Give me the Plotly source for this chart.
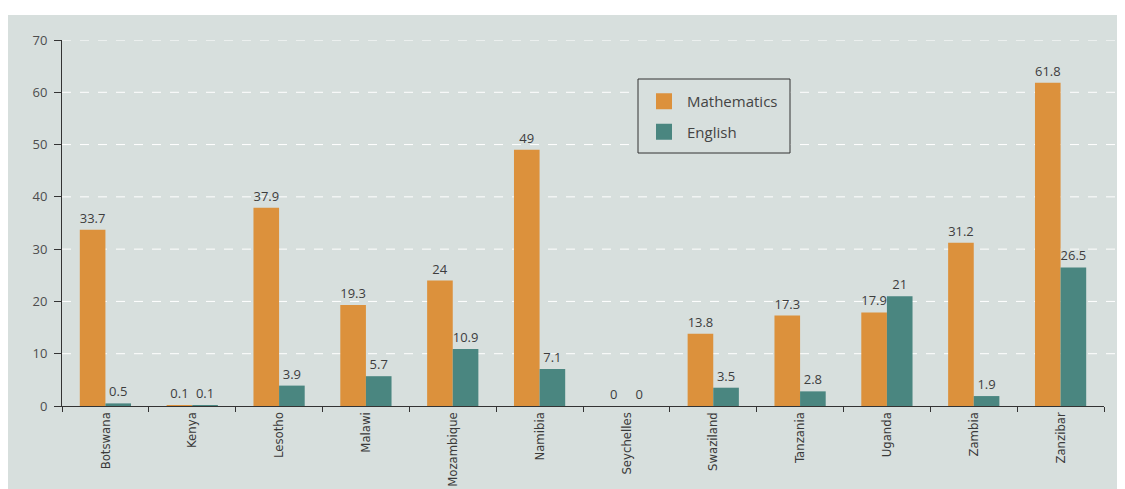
import plotly.graph_objects as go

countries = ["Botswana", "Kenya", "Lesotho", "Malawi", "Mozambique", "Namibia",
             "Seychelles", "Swaziland", "Tanzania", "Uganda", "Zambia", "Zanzibar"]
mathematics = [33.7, 0.1, 37.9, 19.3, 24, 49, 0, 13.8, 17.3, 17.9, 31.2, 61.8]
english = [0.5, 0.1, 3.9, 5.7, 10.9, 7.1, 0, 3.5, 2.8, 21, 1.9, 26.5]
series_names = ["Mathematics", "English"]
y_ticks = [0, 10, 20, 30, 40, 50, 60, 70]

ORANGE = "#dc913c"
TEAL = "#4a8680"
PANEL = "#d7dfdd"
TEXT = "#3d3d3d"

# page offset (body margin) of 8 px
OFF = 8
W, H = 1125, 489
L, T = 62 - OFF, 40 - OFF
R = W - (1104 - OFF)
B = H - (406 - OFF)
pw, ph = W - L - R, H - T - B


def px(xp):  # page x -> paper x
    return (xp - OFF - L) / pw


def py(yp):  # page y -> paper y
    return (H - B - (yp - OFF)) / ph


fig = go.Figure()
for name, vals, col in [(series_names[0], mathematics, ORANGE), (series_names[1], english, TEAL)]:
    fig.add_trace(go.Bar(x=countries, y=vals, name=name, showlegend=False,
                         marker=dict(color=col, line=dict(width=0)),
                         text=[f"{v:g}" for v in vals], textposition="outside",
                         cliponaxis=False,
                         textfont=dict(family="Open Sans", size=13, color=TEXT)))
for name, col in [(series_names[0], ORANGE), (series_names[1], TEAL)]:
    fig.add_trace(go.Scatter(x=[None], y=[None], mode="markers", name=name,
                             legendgroup=name,
                             marker=dict(symbol="square", size=22, color=col,
                                         line=dict(width=0))))

# white strip at top of page, rest of page is panel colour
fig.add_shape(type="rect", xref="paper", yref="paper", layer="below",
              x0=px(0) - 0.05, x1=px(1125) + 0.05, y0=py(15), y1=py(0) + 0.05,
              fillcolor="white", line=dict(width=0))
# dashed gridlines extending slightly beyond the axis end
for v in y_ticks[1:]:
    fig.add_shape(type="line", xref="paper", yref="y", x0=0, x1=px(1117), y0=v, y1=v,
                  line=dict(color="white", width=1, dash="dash"), layer="below")
# legend box
fig.add_shape(type="rect", xref="paper", yref="paper", layer="above",
              x0=px(638), x1=px(790), y0=py(153), y1=py(79),
              fillcolor=PANEL, line=dict(color="#333333", width=1))

fig.update_layout(
    width=W, height=H,
    margin=dict(l=L, r=R, t=T, b=B, autoexpand=False),
    paper_bgcolor=PANEL, plot_bgcolor="rgba(0,0,0,0)",
    barmode="group", bargap=0.41, bargroupgap=0,
    font=dict(family="Open Sans", color="#444444"),
    legend=dict(x=px(641), y=py(85), xanchor="left", yanchor="top",
                bgcolor="rgba(0,0,0,0)", borderwidth=0,
                font=dict(family="Open Sans", size=15, color="#444444"),
                itemsizing="trace", tracegroupgap=8, itemwidth=36,
                entrywidth=130),
    xaxis=dict(tickangle=-90, tickson="boundaries", ticks="outside", ticklen=5,
               tickcolor="#333333", showline=True, linecolor="#333333", linewidth=1,
               tickfont=dict(family="DejaVu Sans Condensed, Open Sans", size=13, color="#3a3a3a"),
               showgrid=False, automargin=False),
    yaxis=dict(range=[0, 70], tickvals=y_ticks, ticks="outside", ticklen=7, tickcolor="#333333",
               showline=True, linecolor="#333333", linewidth=1,
               showgrid=False, zeroline=False, ticklabelstandoff=4, automargin=False,
               tickfont=dict(family="Open Sans", size=13, color="#4d4d4d")),
    showlegend=True,
)

fig.write_html("out.html")
